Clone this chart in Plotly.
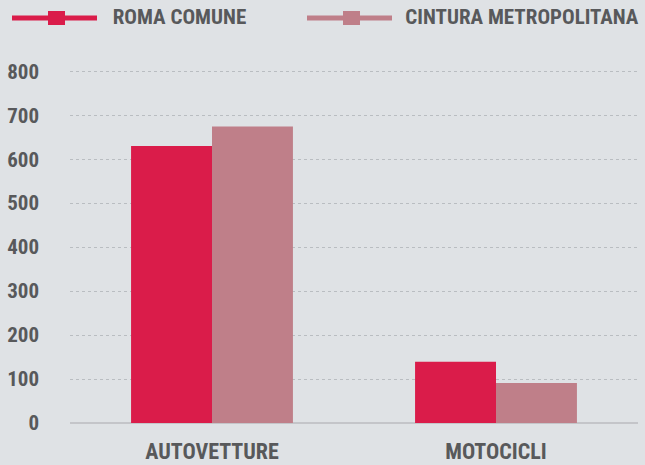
import plotly.graph_objects as go

categories = ["AUTOVETTURE", "MOTOCICLI"]
series_names = ["ROMA COMUNE", "CINTURA METROPOLITANA"]
roma_values = [630, 139]
cintura_values = [674, 91]
y_ticks = [0, 100, 200, 300, 400, 500, 600, 700, 800]

colors = ["#da1c4a", "#bf7f89"]
FONT = "Roboto"
TXT = "#58595b"
BG = "#dfe2e5"

def f(size):
    return dict(family=FONT, size=size, color=TXT, weight="bold")

fig = go.Figure()
for name, vals, col in zip(series_names, [roma_values, cintura_values], colors):
    fig.add_trace(go.Bar(x=categories, y=vals, name=name, marker=dict(color=col, line=dict(width=0)),
                         showlegend=False, hoverinfo="skip"))

# manual legend (line + square symbol + text), pixel positions converted to paper coords
TOP = 69
H = 423 - TOP

def px(x):
    return (x - 70) / 568

def py(y):
    return 1 + (TOP - y) / H

legend_items = [(12, 97, 48, 65, 179.5), (307, 392, 343, 360, 522.5)]
for (x0, x1, s0, s1, tx), name, col in zip(legend_items, series_names, colors):
    fig.add_shape(type="line", xref="paper", yref="paper", x0=px(x0), x1=px(x1),
                  y0=py(18), y1=py(18), line=dict(color=col, width=5))
    fig.add_shape(type="rect", xref="paper", yref="paper", x0=px(s0), x1=px(s1),
                  y0=py(25), y1=py(11), line=dict(width=0), fillcolor=col)
    fig.add_annotation(xref="paper", yref="paper", x=px(tx), y=py(17),
                       xanchor="center", yanchor="middle", showarrow=False, text=name,
                       font=f(21))

fig.update_layout(
    width=645, height=465,
    paper_bgcolor=BG, plot_bgcolor=BG,
    margin=dict(l=70, r=7, t=TOP, b=42, autoexpand=False),
    barmode="group", bargap=0.43, bargroupgap=0,
    font=dict(family=FONT, color=TXT),
    hovermode=False,
    xaxis=dict(tickfont=f(22),
               showgrid=False, showline=False, ticks="", ticklabelstandoff=13, automargin=False),
    yaxis=dict(range=[0, 805], tickvals=y_ticks, tickfont=f(21),
               showgrid=True, gridcolor="#b9bdc1", griddash="3px,3px", gridwidth=1,
               zeroline=True, zerolinecolor="#c4c5c9", zerolinewidth=2,
               ticks="", ticklabelstandoff=30, showline=False, automargin=False),
)

js = ("document.body.style.margin='0';document.body.style.overflow='hidden';"
      "var s=document.createElement('style');s.textContent='text{font-stretch:75% !important;}';"
      "document.head.appendChild(s);")
fig.write_html("out.html", post_script=js, config={"displayModeBar": False})
